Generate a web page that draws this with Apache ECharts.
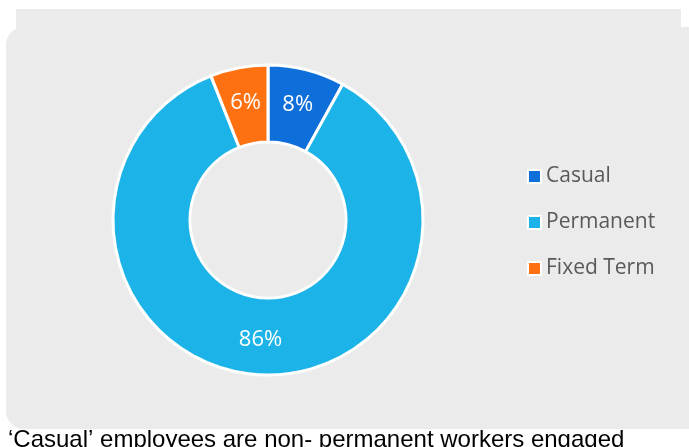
<!DOCTYPE html>
<html>
<head>
    <meta charset="utf-8">
    <title>Employment type</title>
    <script src="https://cdn.jsdelivr.net/npm/echarts@6/dist/echarts.min.js"></script>
    <style>
        html, body { margin: 0; padding: 0; background: #fff; }
    </style>
</head>
<body>
    <div id="main" style="width: 689px;height:447px;"></div>
    <script type="text/javascript">
        var categories = ['Casual', 'Permanent', 'Fixed Term'];
        var shares = [8, 86, 6];
        var colors = ['#0e6fdb', '#1cb4e8', '#ff7110'];
        var note = '\u2018Casual\u2019 employees are non- permanent workers engaged';

        var myChart = echarts.init(document.getElementById('main'));

        var pieData = [];
        for (var i = 0; i < categories.length; i++) {
            pieData.push({
                name: categories[i],
                value: shares[i],
                itemStyle: { color: colors[i] }
            });
        }

        var option = {
            backgroundColor: '#ffffff',
            animation: false,
            graphic: [
                // grey panel behind the chart
                { type: 'rect', z: -10, shape: { x: 16, y: 9, width: 665, height: 40 }, style: { fill: '#ebebeb' } },
                { type: 'rect', z: -10, shape: { x: 6, y: 27, width: 720, height: 402, r: 18 }, style: { fill: '#ebebeb' } },
                {
                    type: 'text', left: 8, top: 428,
                    style: { text: note, fill: '#000', font: '24px "Liberation Sans", Arial, sans-serif' }
                }
            ],
            legend: {
                orient: 'vertical',
                left: 522,
                top: 161,
                itemGap: 25,
                itemWidth: 13,
                itemHeight: 13,
                icon: 'rect',
                data: categories,
                textStyle: { color: '#595959', fontSize: 21, fontFamily: 'Open Sans' }
            },
            series: [{
                name: 'Employment',
                type: 'pie',
                center: [268, 220],
                radius: [78, 155],
                startAngle: 90,
                clockwise: true,
                itemStyle: { borderColor: '#ffffff', borderWidth: 3 },
                label: {
                    show: true,
                    position: 'inside',
                    formatter: '{c}%',
                    color: '#ffffff',
                    fontSize: 22,
                    fontFamily: 'Open Sans'
                },
                labelLine: { show: false },
                data: pieData
            }]
        };

        myChart.setOption(option);
    </script>
</body>
</html>
